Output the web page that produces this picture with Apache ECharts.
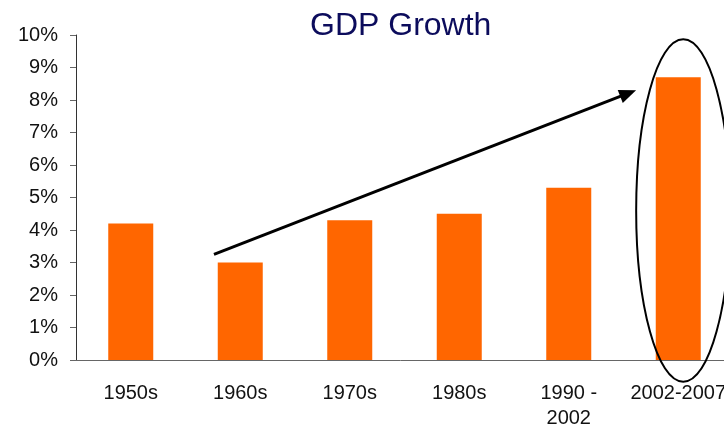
<!DOCTYPE html>
<html>
<head>
<meta charset="utf-8">
<script src="https://cdn.jsdelivr.net/npm/echarts@6/dist/echarts.min.js"></script>
<style>
  html, body { margin: 0; padding: 0; background: #fff; }
  #chart { width: 724px; height: 428px; }
</style>
</head>
<body>
<div id="chart"></div>
<script>
// data
const periods = ['1950s', '1960s', '1970s', '1980s', '1990 -\n2002', '2002-2007'];
const growth = [4.2, 3.0, 4.3, 4.5, 5.3, 8.7];
const yTicks = [0, 10, 1]; // min, max, interval (percent)

const font = '"Liberation Sans", Arial, sans-serif';

const chart = echarts.init(document.getElementById('chart'));

chart.setOption({
  animation: false,
  title: {
    text: 'GDP Growth',
    left: 305,
    top: 5,
    textStyle: { fontFamily: font, fontSize: 32, fontWeight: 'normal', color: '#0c0c5c' }
  },
  grid: {
    left: 76, top: 35, width: 657, height: 325,
    containLabel: false, outerBoundsMode: 'none'
  },
  xAxis: {
    type: 'category',
    data: periods,
    axisLine: { lineStyle: { color: '#666', width: 1 } },
    axisTick: { length: 6, lineStyle: { color: '#666' } },
    axisLabel: { fontFamily: font, fontSize: 20, color: '#111', margin: 21, lineHeight: 25, interval: 0 }
  },
  yAxis: {
    type: 'value',
    min: yTicks[0],
    max: yTicks[1],
    interval: yTicks[2],
    splitLine: { show: false },
    axisLine: { show: true, lineStyle: { color: '#333', width: 1 } },
    axisTick: { show: true, length: 6, lineStyle: { color: '#666' } },
    axisLabel: { fontFamily: font, fontSize: 20, color: '#111', margin: 18, formatter: '{value}%' }
  },
  series: [{
    type: 'bar',
    data: growth,
    barWidth: 45,
    itemStyle: { color: '#ff6600' }
  }]
});

// annotations: arrow and ellipse placed through the chart's own scales
function px(idx, val) {
  return chart.convertToPixel({ gridIndex: 0 }, [idx, val]);
}
const band = 657 / periods.length;
const unit = px(0, 0)[1] - px(0, 1)[1];

const start = px(1, 3.25); start[0] -= 0.24 * band;
const tip = px(5, 8.3); tip[0] -= 0.385 * band;
const ang = Math.atan2(tip[1] - start[1], tip[0] - start[0]);
const headLen = 17, headHalf = 7;
const baseX = tip[0] - headLen * Math.cos(ang), baseY = tip[1] - headLen * Math.sin(ang);
const head = [
  tip,
  [baseX + headHalf * Math.sin(ang), baseY - headHalf * Math.cos(ang)],
  [baseX - headHalf * Math.sin(ang), baseY + headHalf * Math.cos(ang)]
];

const centre = px(5, 4.6); centre[0] += 5;

chart.setOption({
  graphic: [
    {
      type: 'line',
      shape: { x1: start[0], y1: start[1], x2: baseX + 2 * Math.cos(ang), y2: baseY + 2 * Math.sin(ang) },
      style: { stroke: '#000', lineWidth: 3 },
      z: 100
    },
    {
      type: 'polygon',
      shape: { points: head },
      style: { fill: '#000' },
      z: 100
    },
    {
      type: 'ellipse',
      shape: { cx: centre[0], cy: centre[1], rx: 0.43 * band, ry: 5.27 * unit },
      style: { fill: null, stroke: '#000', lineWidth: 2 },
      z: 100
    }
  ]
});
</script>
</body>
</html>
